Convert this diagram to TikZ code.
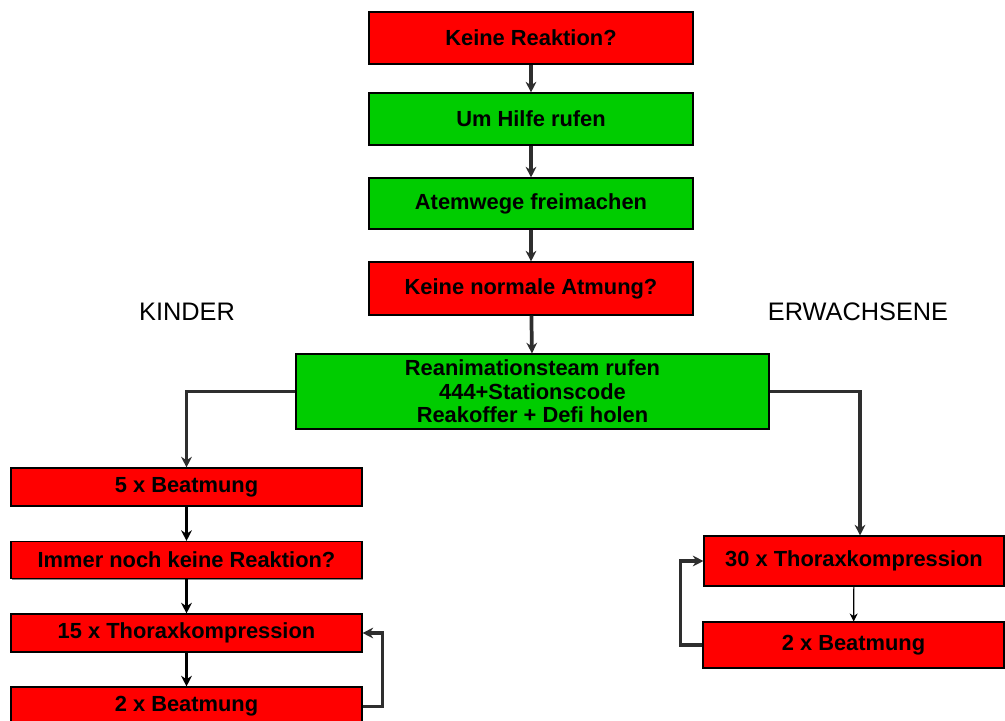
\documentclass[tikz,border=0pt]{standalone}
\usepackage{fontspec}
\setmainfont{Liberation Sans}
\usetikzlibrary{arrows.meta,shadows}
\definecolor{boxred}{RGB}{255,0,0}
\definecolor{boxgreen}{RGB}{0,204,0}
\begin{document}
\begin{tikzpicture}[x=0.75pt,y=-0.75pt,
  box/.style={draw=black, line width=0.8pt, inner sep=0pt, align=center,
    font=\fontsize{16.4}{17.6}\selectfont\bfseries,
    drop shadow={shadow xshift=0.4pt, shadow yshift=-0.9pt, fill=black!45, opacity=1}},
  redbox/.style={box, fill=boxred},
  greenbox/.style={box, fill=boxgreen},
  conn/.style={draw=black!82, line width=2.8pt, -{Stealth[length=8pt,width=8pt]}},
  solidarrow/.style={draw=black, line width=2.2pt, -{Stealth[length=8pt,width=8pt]}},
  thinarrow/.style={draw=black, line width=0.9pt, -{Stealth[length=6pt,width=6pt]}},
  lbl/.style={font=\fontsize{19}{22}\selectfont}
]
\useasboundingbox (0,0) rectangle (1005,720);

\node[redbox, minimum width=243pt, minimum height=39pt] (n1) at (531,38) {Keine Reaktion?};
\node[greenbox, minimum width=243pt, minimum height=39pt] (n2) at (531,119) {Um Hilfe rufen};
\node[greenbox, minimum width=243pt, minimum height=38.25pt] (n3) at (531,203.5) {Atemwege freimachen};
\node[redbox, minimum width=243pt, minimum height=39.75pt] (n4) at (531,288.5) {Keine normale Atmung?};
\node[greenbox, minimum width=354.75pt, minimum height=56.25pt] (n5) at (532.5,391.5)
  {Reanimationsteam rufen\\444+Stationscode\\Reakoffer + Defi holen};

\node[redbox, minimum width=263.25pt, minimum height=28.5pt] (n6) at (186.5,487) {5 x Beatmung};
\node[redbox, minimum width=263.25pt, minimum height=27.75pt] (n7) at (186.5,560) {Immer noch keine Reaktion?};
\node[redbox, minimum width=263.25pt, minimum height=28.5pt] (n8) at (186.5,633) {15 x Thoraxkompression};
\node[redbox, minimum width=263.25pt, minimum height=29.25pt] (n9) at (186.5,706.5) {2 x Beatmung};

\node[redbox, minimum width=225pt, minimum height=37.5pt] (n10) at (854,561) {30 x Thoraxkompression};
\node[redbox, minimum width=225.75pt, minimum height=34.5pt] (n11) at (853.5,645) {2 x Beatmung};

\node[lbl] (kinder) at (187,312) {KINDER};
\node[lbl] (erw) at (858,312) {ERWACHSENE};

\draw[conn] (n1) -- (n2);
\draw[conn] (n2) -- (n3);
\draw[conn] (n3) -- (n4);
\draw[conn] (n4) -- (n5);
\draw[conn] (n5.west) -| (n6.north);
\draw[conn] (n5.east) -| ([xshift=4.5pt]n10.north);
\draw[solidarrow] (n6) -- (n7);
\draw[solidarrow] (n7) -- (n8);
\draw[solidarrow] (n8) -- (n9);
\draw[conn] (n9.east) -- ++(20,0) |- (n8.east);
\draw[thinarrow] (n10) -- (n11);
\draw[conn] (n11.west) -- ++(-22,0) |- (n10.west);
\end{tikzpicture}
\end{document}
